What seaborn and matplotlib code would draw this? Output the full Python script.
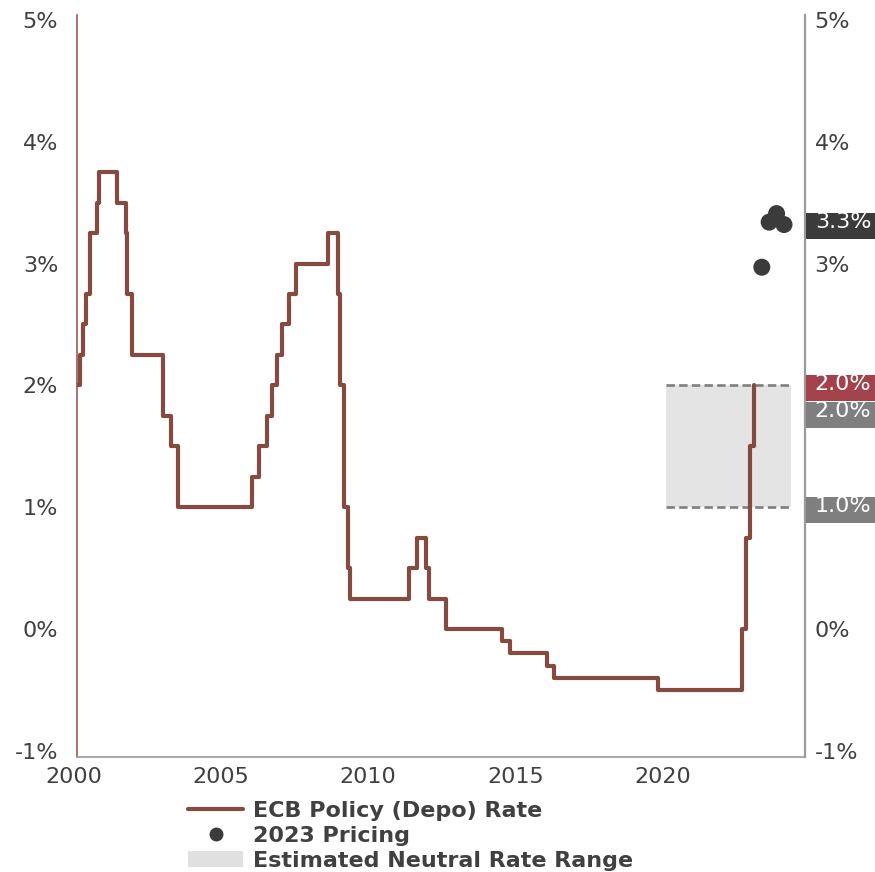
import matplotlib
matplotlib.use("Agg")
import matplotlib.pyplot as plt
import seaborn as sns
import pandas as pd
from matplotlib.lines import Line2D
from matplotlib.patches import Patch, Rectangle
from matplotlib.transforms import blended_transform_factory, ScaledTranslation

# ECB deposit facility rate: change dates and new levels (%)
depo_dates = [
    "2000-01-01", "2000-02-04", "2000-03-17", "2000-04-28", "2000-06-09",
    "2000-09-01", "2000-10-06", "2001-05-11", "2001-08-31", "2001-09-18",
    "2001-11-09", "2002-12-06", "2003-03-07", "2003-06-06", "2005-12-06",
    "2006-03-08", "2006-06-15", "2006-08-09", "2006-10-11", "2006-12-13",
    "2007-03-14", "2007-06-13", "2008-07-09", "2008-11-12", "2008-12-10",
    "2009-01-21", "2009-03-11", "2009-04-08", "2011-04-13", "2011-07-13",
    "2011-11-09", "2011-12-14", "2012-07-11", "2014-06-11", "2014-09-10",
    "2015-12-09", "2016-03-16", "2019-09-18", "2022-07-27", "2022-09-14",
    "2022-11-02", "2022-12-21",
]
depo_rates = [
    2.00, 2.25, 2.50, 2.75, 3.25,
    3.50, 3.75, 3.50, 3.25, 2.75,
    2.25, 1.75, 1.50, 1.00, 1.25,
    1.50, 1.75, 2.00, 2.25, 2.50,
    2.75, 3.00, 3.25, 2.75, 2.00,
    1.00, 0.50, 0.25, 0.50, 0.75,
    0.50, 0.25, 0.00, -0.10, -0.20,
    -0.30, -0.40, -0.50, 0.00, 0.75,
    1.50, 2.00,
]

# Market pricing for 2023 (quarter ends)
pricing_dates = ["2023-03-31", "2023-06-30", "2023-09-30", "2023-12-31"]
pricing_rates = [2.97, 3.34, 3.41, 3.32]

# Estimated neutral rate range
neutral_start, neutral_end = "2020-01-01", "2024-03-25"
neutral_low, neutral_high = 1.0, 2.0

# Right-hand value tags: (label, level, colour)
tag_labels = ["3.3%", "2.0%", "2.0%", "1.0%"]
tag_levels = [3.31, 1.98, 1.76, 0.98]
tag_colors = ["#3b3b3b", "#a3424a", "#7f7f7f", "#7f7f7f"]

y_ticks = [-1, 0, 1, 2, 3, 4, 5]
x_ticks = [2000, 2005, 2010, 2015, 2020]

LINE_COLOR = "#854a40"
TEXT_COLOR = "#404040"
TICK_SIZE = 16


def to_year(d):
    ts = pd.Timestamp(d)
    days = 366 if ts.is_leap_year else 365
    return ts.year + (ts.dayofyear - 1) / days


depo = pd.DataFrame({"year": [to_year(d) for d in depo_dates], "rate": depo_rates})
pricing = pd.DataFrame({"year": [to_year(d) for d in pricing_dates], "rate": pricing_rates})

sns.set_theme(style="white")
plt.rcParams["font.family"] = ["DejaVu Sans"]

fig = plt.figure(figsize=(8.75, 8.72), dpi=100)
ax = fig.add_axes([77 / 875, 115 / 872, 728 / 875, 742 / 872])

# neutral range band with dashed bounds
x0, x1 = to_year(neutral_start), to_year(neutral_end)
ax.fill_between([x0, x1], neutral_low, neutral_high, color="#e4e4e4", lw=0, zorder=0)
for lvl in (neutral_low, neutral_high):
    ax.plot([x0, x1], [lvl, lvl], color="#7f7f7f", lw=1.9, dashes=(3.2, 1.6), zorder=1)

sns.lineplot(data=depo, x="year", y="rate", drawstyle="steps-post", estimator=None,
             color=LINE_COLOR, linewidth=3.0, ax=ax, zorder=3)
sns.scatterplot(data=pricing, x="year", y="rate", color="#3b3b3b", s=150,
                edgecolor="none", ax=ax, zorder=4)

ax.set_xlim(2000.03, 2024.71)
ax.set_ylim(-1.05, 5.04)
ax.set_xticks(x_ticks)
ax.set_xticklabels([str(t) for t in x_ticks])
ax.set_yticks(y_ticks)
ax.set_yticklabels([f"{t}%" for t in y_ticks])
ax.set_xlabel("")
ax.set_ylabel("")
ax.tick_params(axis="both", length=0, labelsize=TICK_SIZE, labelcolor=TEXT_COLOR)
ax.tick_params(axis="y", pad=13.5)
ax.tick_params(axis="x", pad=7)
shift = ScaledTranslation(-0.035, 0, fig.dpi_scale_trans)
for lab in ax.get_xticklabels():
    lab.set_transform(lab.get_transform() + shift)

ax.spines["top"].set_visible(False)
ax.spines["left"].set_color("#9a5a50")
ax.spines["left"].set_linewidth(1.2)
ax.spines["bottom"].set_color("#a0a0a0")
ax.spines["bottom"].set_linewidth(1.3)
ax.spines["right"].set_color("#9a9a9a")
ax.spines["right"].set_linewidth(1.6)

ax2 = ax.twinx()
ax2.set_ylim(ax.get_ylim())
right_ticks = [-1, 0, 3, 4, 5]
ax2.set_yticks(right_ticks)
ax2.set_yticklabels([f"{t}%" for t in right_ticks])
ax2.tick_params(axis="y", length=0, labelsize=TICK_SIZE, labelcolor=TEXT_COLOR, pad=7)
for s in ("top", "left", "bottom", "right"):
    ax2.spines[s].set_visible(False)
ax2.grid(False)

# value tags outside the right spine
trans = blended_transform_factory(ax2.transAxes, ax2.transData)
box_h = 26 / 121.8
for lab, lvl, col in zip(tag_labels, tag_levels, tag_colors):
    ax2.add_patch(Rectangle((1.0014, lvl - box_h / 2), 0.0948, box_h, transform=trans,
                            facecolor=col, edgecolor="none", clip_on=False, zorder=5))
    ax2.text(1.0135, lvl + 0.03, lab, transform=trans, color="white", fontsize=TICK_SIZE,
             va="center", ha="left", zorder=6, clip_on=False)

handles = [
    Line2D([], [], color=LINE_COLOR, lw=3.0),
    Line2D([], [], color="#3b3b3b", marker="o", ls="none", markersize=9),
    Patch(facecolor="#e0e0e0", edgecolor="none"),
]
labels = ["ECB Policy (Depo) Rate", "2023 Pricing", "Estimated Neutral Rate Range"]
leg = fig.legend(handles, labels, loc="upper left", bbox_to_anchor=(188 / 875, 71 / 872),
                 frameon=False, borderpad=0, borderaxespad=0, handlelength=2.48,
                 handletextpad=0.45, labelspacing=0.22,
                 prop={"size": 16, "weight": "bold"})
for t in leg.get_texts():
    t.set_color(TEXT_COLOR)

fig.savefig("out.png", dpi=100)
